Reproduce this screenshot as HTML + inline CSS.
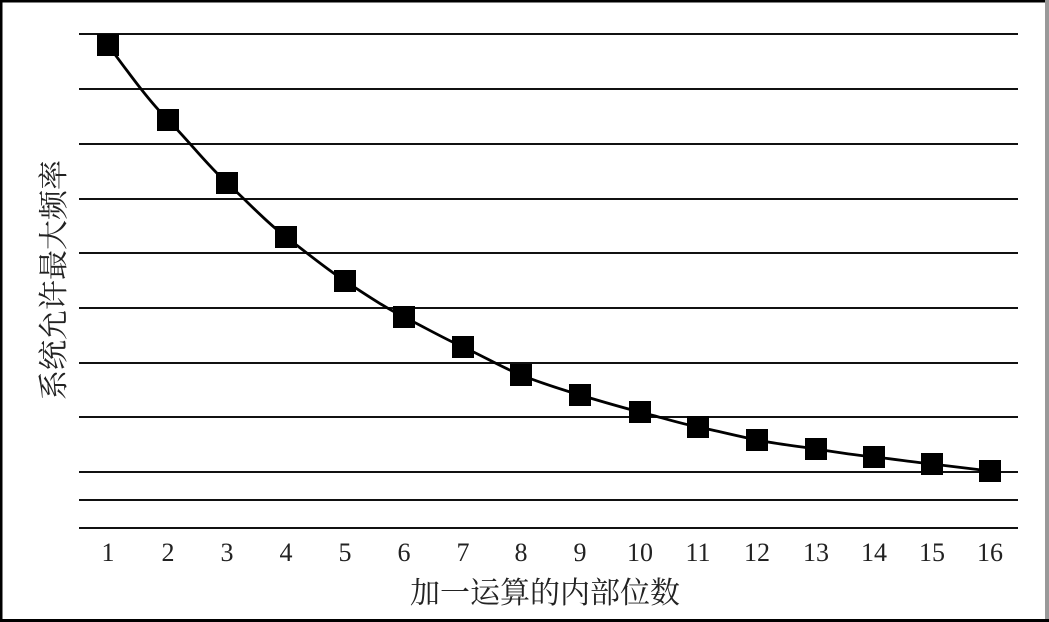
<!DOCTYPE html>
<html><head><meta charset="utf-8"><style>
body{margin:0;width:1049px;height:622px;overflow:hidden;background:#fff}
</style></head><body>
<svg width="1049" height="622" xmlns="http://www.w3.org/2000/svg" style="display:block">
<rect x="0" y="0" width="1049" height="622" fill="#fff"/>
<rect x="0" y="0" width="1049" height="2.5" fill="#000"/>
<rect x="0" y="0" width="2.5" height="622" fill="#000"/>
<rect x="1045" y="0" width="4" height="622" fill="#999"/>
<rect x="0" y="619" width="1049" height="3" fill="#000"/>
<g stroke="#111" stroke-width="2">
<line x1="79" x2="1018" y1="34" y2="34"/><line x1="79" x2="1018" y1="89" y2="89"/>
<line x1="79" x2="1018" y1="144" y2="144"/><line x1="79" x2="1018" y1="199" y2="199"/>
<line x1="79" x2="1018" y1="253" y2="253"/><line x1="79" x2="1018" y1="308" y2="308"/>
<line x1="79" x2="1018" y1="363" y2="363"/><line x1="79" x2="1018" y1="417" y2="417"/>
<line x1="79" x2="1018" y1="472" y2="472"/><line x1="79" x2="1018" y1="500" y2="500"/>
<line x1="79" x2="1018" y1="528" y2="528"/>
</g>
<path d="M108,45 C128,72 148,100 168,120 S207,165 227,183 S266,222 286,237 S325,268 345,281 S384,307 404,317 S443,338 463,347 S501,367 521,375 S560,389 580,395 S620,407 640,412 S678,423 698,427 S737,436 757,440 S796,446 816,449 S854,455 874,457 S912,462 932,464 L990,471" fill="none" stroke="#000" stroke-width="2.8"/>
<g fill="#000">
<rect x="97" y="34" width="22" height="22"/><rect x="157" y="109" width="22" height="22"/>
<rect x="216" y="172" width="22" height="22"/><rect x="275" y="226" width="22" height="22"/>
<rect x="334" y="270" width="22" height="22"/><rect x="393" y="306" width="22" height="22"/>
<rect x="452" y="336" width="22" height="22"/><rect x="510" y="364" width="22" height="22"/>
<rect x="569" y="384" width="22" height="22"/><rect x="629" y="401" width="22" height="22"/>
<rect x="687" y="416" width="22" height="22"/><rect x="746" y="429" width="22" height="22"/>
<rect x="805" y="438" width="22" height="22"/><rect x="863" y="446" width="22" height="22"/>
<rect x="921" y="453" width="22" height="22"/><rect x="979" y="460" width="22" height="22"/>
</g>
<g font-family="Liberation Serif, serif" font-size="26" fill="#222" text-anchor="middle">
<text x="108" y="561">1</text><text x="168" y="561">2</text><text x="227" y="561">3</text>
<text x="286" y="561">4</text><text x="345" y="561">5</text><text x="404" y="561">6</text>
<text x="463" y="561">7</text><text x="521" y="561">8</text><text x="580" y="561">9</text>
<text x="640" y="561">10</text><text x="698" y="561">11</text><text x="757" y="561">12</text>
<text x="816" y="561">13</text><text x="874" y="561">14</text><text x="932" y="561">15</text>
<text x="990" y="561">16</text>
</g>
<text x="545" y="603" font-family="Liberation Serif, 'Noto Serif CJK SC', serif" font-size="30" fill="#222" text-anchor="middle">加一运算的内部位数</text>
<text transform="translate(64,280) rotate(-90)" font-family="Liberation Serif, 'Noto Serif CJK SC', serif" font-size="30" fill="#222" text-anchor="middle">系统允许最大频率</text>
</svg>
</body></html>
